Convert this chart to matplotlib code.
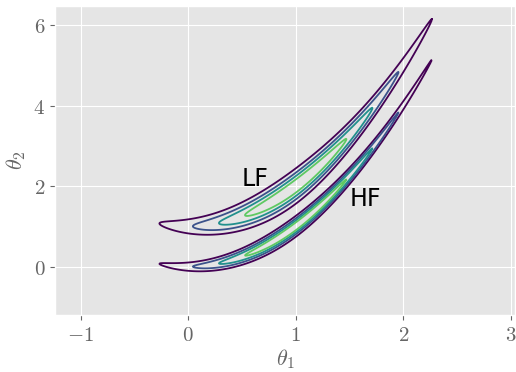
import numpy as np
import matplotlib
matplotlib.use("Agg")
import matplotlib.pyplot as plt
from matplotlib.ticker import FuncFormatter

plt.style.use("ggplot")
plt.rcParams["mathtext.fontset"] = "cm"

# two banana-shaped posteriors: theta2 ~ theta1^2 + offset
models = ["LF", "HF"]
offsets = [1.0, 0.0]          # vertical shift of the ridge
widths = [0.245, 0.145]       # spread across the ridge
theta1_mean = 1.0
theta1_var = 0.5
pinch = 1.4                   # how fast the band narrows away from the mean
levels = [0.2, 0.4, 0.6, 0.8, 1.0]   # fractions of the peak density

label_x = [0.5, 1.5]
label_y = [2.0, 1.5]

xticks = [-1, 0, 1, 2, 3]
yticks = [0, 2, 4, 6]
xlim = (-1.24, 3.04)
ylim = (-1.2, 6.47)

t1 = np.linspace(xlim[0], xlim[1], 600)
t2 = np.linspace(ylim[0], ylim[1], 600)
T1, T2 = np.meshgrid(t1, t2)

fig = plt.figure(figsize=(5.16, 3.72), dpi=100)
ax = fig.add_axes([55/516, 1-315/372, 460/516, 309/372])

for name, off, w, lx, ly in zip(models, offsets, widths, label_x, label_y):
    u = T1 - theta1_mean
    v = T2 - T1**2 - off
    logp = -u**2 / (2*theta1_var) - v**2 / (2*w**2) * (1 + pinch*u**2)
    p = np.exp(logp - logp.max())
    ax.contour(T1, T2, p, levels=levels, cmap="viridis", linewidths=1.3)
    ax.text(lx, ly, name, fontsize=17, color="black")

ax.set_xlim(*xlim)
ax.set_ylim(*ylim)
ax.set_xticks(xticks)
ax.set_yticks(yticks)
fmt = FuncFormatter(lambda val, pos: r"$%g$" % val)
ax.xaxis.set_major_formatter(fmt)
ax.yaxis.set_major_formatter(fmt)
ax.tick_params(labelsize=15, colors="#666666")
ax.set_xlabel(r"$\theta_1$", fontsize=16, color="#666666", labelpad=2)
ax.set_ylabel(r"$\theta_2$", fontsize=16, color="#666666", labelpad=4)

fig.savefig("out.png", dpi=100)
